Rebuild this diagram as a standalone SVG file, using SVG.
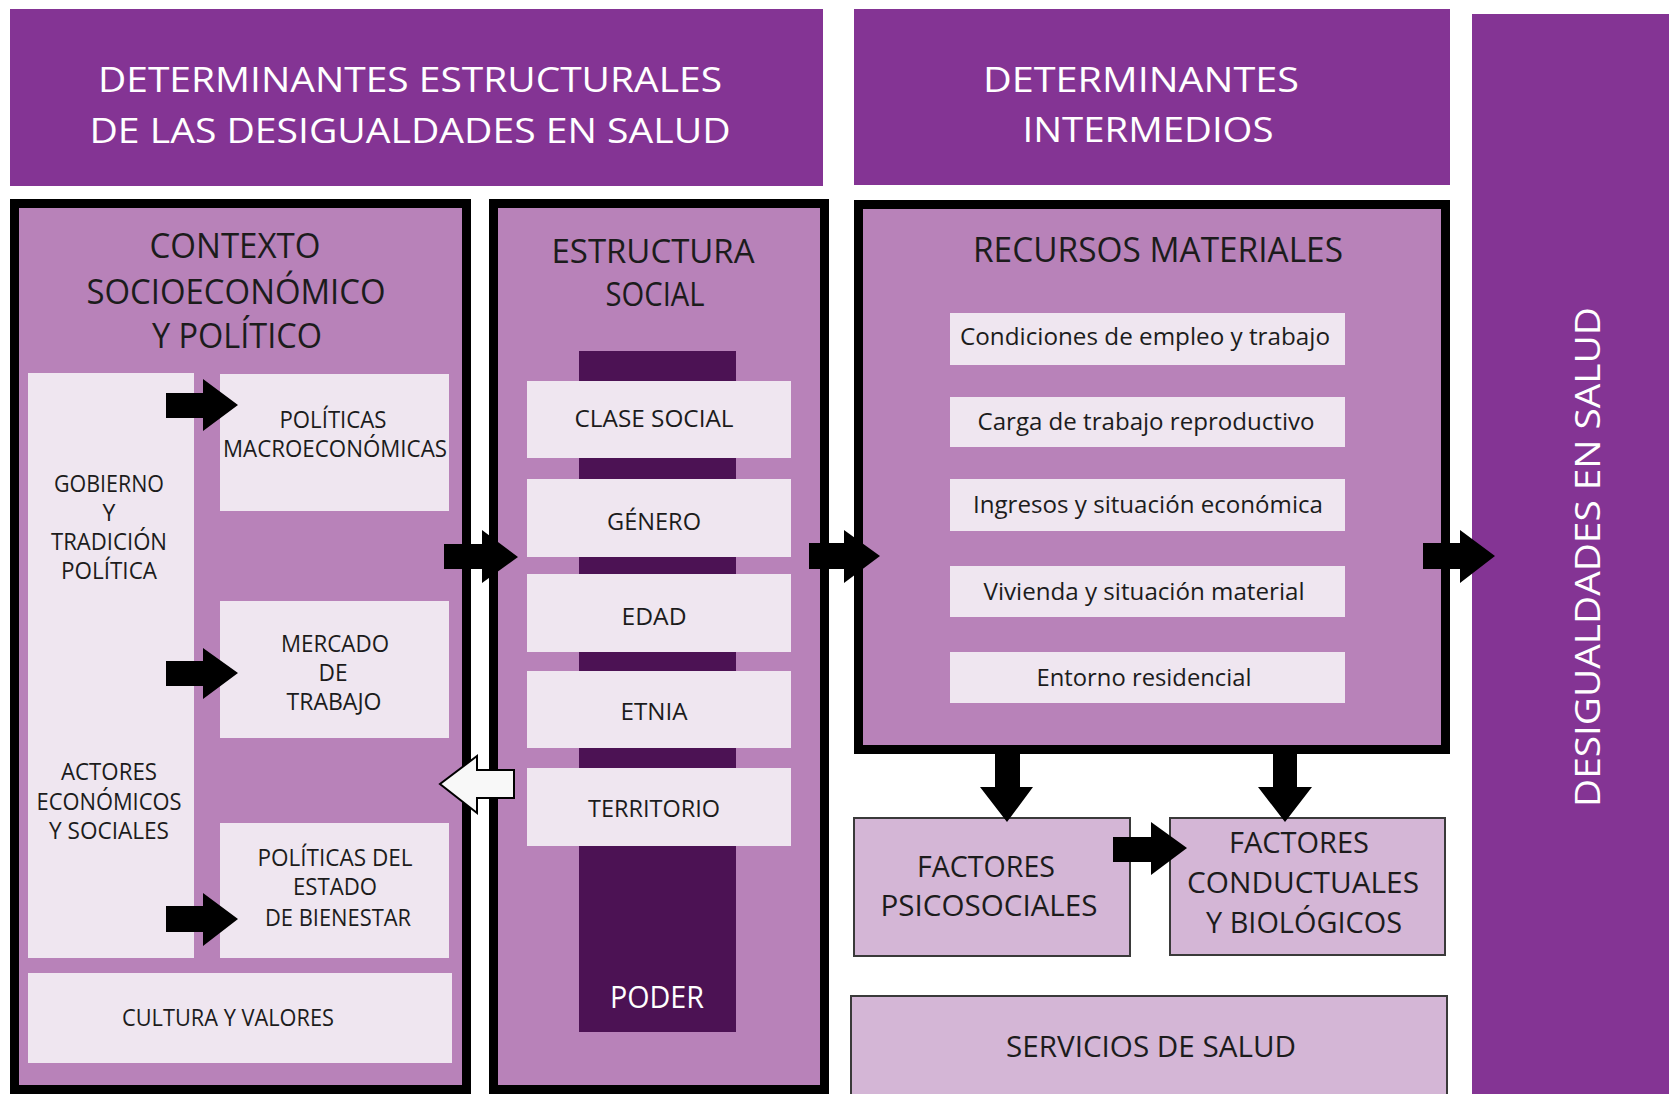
<svg xmlns="http://www.w3.org/2000/svg" width="1669" height="1094" viewBox="0 0 1669 1094">
<style>
text{font-family:"Open Sans","Noto Sans","DejaVu Sans",sans-serif;text-anchor:middle}
.hdr{fill:#ffffff;font-size:35px}
.hbox{fill:#843494}
.frame{fill:#b882b9;stroke:#000;stroke-width:9}
.light{fill:#efe6f0}
.t{fill:#1c1c1c}
.t36{font-size:35px}
.t32{font-size:32px}
.t23{font-size:23px}
.t30{font-size:30px}
.fac{fill:#d4b6d6;stroke:#3a3a3a;stroke-width:2}
.arr{fill:#000}
.harr{fill:#f8f8f8;stroke:#000;stroke-width:2}
</style>
<rect width="1669" height="1094" fill="#ffffff"/>

<g id="header-estructurales">
<rect class="hbox" x="10" y="9" width="813" height="177"/>
<text class="hdr" x="410" y="92" textLength="624" lengthAdjust="spacingAndGlyphs">DETERMINANTES ESTRUCTURALES</text>
<text class="hdr" x="410" y="143" textLength="641" lengthAdjust="spacingAndGlyphs">DE LAS DESIGUALDADES EN SALUD</text>
</g>

<g id="header-intermedios">
<rect class="hbox" x="854" y="9" width="596" height="176"/>
<text class="hdr" x="1141" y="92" textLength="316" lengthAdjust="spacingAndGlyphs">DETERMINANTES</text>
<text class="hdr" x="1148" y="142" textLength="251" lengthAdjust="spacingAndGlyphs">INTERMEDIOS</text>
</g>

<g id="desigualdades">
<rect class="hbox" x="1472" y="14" width="197" height="1080"/>
<text class="hdr" transform="translate(1600,557) rotate(-90)" x="0" y="0" font-size="49" textLength="500" lengthAdjust="spacingAndGlyphs">DESIGUALDADES EN SALUD</text>
</g>

<g id="contexto">
<rect class="frame" x="14.5" y="203.5" width="452" height="886"/>
<text class="t t36" x="235" y="258" textLength="171" lengthAdjust="spacingAndGlyphs">CONTEXTO</text>
<text class="t t36" x="236" y="304" textLength="299" lengthAdjust="spacingAndGlyphs">SOCIOECONÓMICO</text>
<text class="t t36" x="237" y="348" textLength="170" lengthAdjust="spacingAndGlyphs">Y POLÍTICO</text>
</g>

<g id="gobierno-actores">
<rect class="light" x="28" y="373" width="166" height="585"/>
<text class="t t23" x="109" y="492" textLength="110" lengthAdjust="spacingAndGlyphs">GOBIERNO</text>
<text class="t t23" x="109" y="521">Y</text>
<text class="t t23" x="109" y="550" textLength="116" lengthAdjust="spacingAndGlyphs">TRADICIÓN</text>
<text class="t t23" x="109" y="579" textLength="96" lengthAdjust="spacingAndGlyphs">POLÍTICA</text>
<text class="t t23" x="109" y="780" textLength="96" lengthAdjust="spacingAndGlyphs">ACTORES</text>
<text class="t t23" x="109" y="810" textLength="145" lengthAdjust="spacingAndGlyphs">ECONÓMICOS</text>
<text class="t t23" x="109" y="839" textLength="120" lengthAdjust="spacingAndGlyphs">Y SOCIALES</text>
</g>

<g id="politicas-macro">
<rect class="light" x="220" y="374" width="229" height="137"/>
<text class="t t23" x="333" y="428" textLength="107" lengthAdjust="spacingAndGlyphs">POLÍTICAS</text>
<text class="t t23" x="335" y="457" textLength="224" lengthAdjust="spacingAndGlyphs">MACROECONÓMICAS</text>
</g>

<g id="mercado-trabajo">
<rect class="light" x="220" y="601" width="229" height="137"/>
<text class="t t23" x="335" y="652" textLength="108" lengthAdjust="spacingAndGlyphs">MERCADO</text>
<text class="t t23" x="333" y="681" textLength="29" lengthAdjust="spacingAndGlyphs">DE</text>
<text class="t t23" x="334" y="710" textLength="95" lengthAdjust="spacingAndGlyphs">TRABAJO</text>
</g>

<g id="politicas-bienestar">
<rect class="light" x="220" y="823" width="229" height="135"/>
<text class="t t23" x="335" y="866" textLength="155" lengthAdjust="spacingAndGlyphs">POLÍTICAS DEL</text>
<text class="t t23" x="335" y="895" textLength="84" lengthAdjust="spacingAndGlyphs">ESTADO</text>
<text class="t t23" x="338" y="926" textLength="146" lengthAdjust="spacingAndGlyphs">DE BIENESTAR</text>
</g>

<g id="cultura-valores">
<rect class="light" x="28" y="973" width="424" height="90"/>
<text class="t t23" x="228" y="1026" textLength="212" lengthAdjust="spacingAndGlyphs">CULTURA Y VALORES</text>
</g>

<g id="estructura-social">
<rect class="frame" x="493.5" y="203.5" width="331" height="886"/>
<text class="t t32" x="653" y="263" textLength="203" lengthAdjust="spacingAndGlyphs">ESTRUCTURA</text>
<text class="t t32" x="655" y="306" textLength="99" lengthAdjust="spacingAndGlyphs">SOCIAL</text>
</g>

<g id="poder">
<rect x="579" y="351" width="157" height="681" fill="#4c1254"/>
<text x="657" y="1008" font-size="31" fill="#ffffff" textLength="94" lengthAdjust="spacingAndGlyphs">PODER</text>
</g>

<g id="clase-social">
<rect class="light" x="527" y="381" width="264" height="77"/>
<text class="t t23" x="654" y="427" textLength="159" lengthAdjust="spacingAndGlyphs">CLASE SOCIAL</text>
</g>
<g id="genero">
<rect class="light" x="527" y="479" width="264" height="78"/>
<text class="t t23" x="654" y="530" textLength="94" lengthAdjust="spacingAndGlyphs">GÉNERO</text>
</g>
<g id="edad">
<rect class="light" x="527" y="574" width="264" height="78"/>
<text class="t t23" x="654" y="625" textLength="65" lengthAdjust="spacingAndGlyphs">EDAD</text>
</g>
<g id="etnia">
<rect class="light" x="527" y="671" width="264" height="77"/>
<text class="t t23" x="654" y="720" textLength="67" lengthAdjust="spacingAndGlyphs">ETNIA</text>
</g>
<g id="territorio">
<rect class="light" x="527" y="768" width="264" height="78"/>
<text class="t t23" x="654" y="817" textLength="132" lengthAdjust="spacingAndGlyphs">TERRITORIO</text>
</g>

<g id="recursos-materiales">
<rect class="frame" x="858.5" y="204.5" width="587" height="545"/>
<text class="t t36" x="1158" y="262" textLength="370" lengthAdjust="spacingAndGlyphs">RECURSOS MATERIALES</text>
</g>

<g id="condiciones-empleo">
<rect class="light" x="950" y="313" width="395" height="52"/>
<text class="t t23" x="1145" y="345" textLength="370" lengthAdjust="spacingAndGlyphs">Condiciones de empleo y trabajo</text>
</g>
<g id="carga-trabajo">
<rect class="light" x="950" y="397" width="395" height="50"/>
<text class="t t23" x="1146" y="430" textLength="337" lengthAdjust="spacingAndGlyphs">Carga de trabajo reproductivo</text>
</g>
<g id="ingresos">
<rect class="light" x="950" y="479" width="395" height="52"/>
<text class="t t23" x="1148" y="513" textLength="350" lengthAdjust="spacingAndGlyphs">Ingresos y situación económica</text>
</g>
<g id="vivienda">
<rect class="light" x="950" y="566" width="395" height="51"/>
<text class="t t23" x="1144" y="600" textLength="321" lengthAdjust="spacingAndGlyphs">Vivienda y situación material</text>
</g>
<g id="entorno">
<rect class="light" x="950" y="652" width="395" height="51"/>
<text class="t t23" x="1144" y="686" textLength="215" lengthAdjust="spacingAndGlyphs">Entorno residencial</text>
</g>

<g id="factores-psicosociales">
<rect class="fac" x="854" y="818" width="276" height="138"/>
<text class="t t30" x="986" y="877" textLength="138" lengthAdjust="spacingAndGlyphs">FACTORES</text>
<text class="t t30" x="989" y="916" textLength="217" lengthAdjust="spacingAndGlyphs">PSICOSOCIALES</text>
</g>

<g id="factores-conductuales">
<rect class="fac" x="1170" y="818" width="275" height="137"/>
<text class="t t30" x="1299" y="853" textLength="140" lengthAdjust="spacingAndGlyphs">FACTORES</text>
<text class="t t30" x="1303" y="893" textLength="232" lengthAdjust="spacingAndGlyphs">CONDUCTUALES</text>
<text class="t t30" x="1304" y="933" textLength="196" lengthAdjust="spacingAndGlyphs">Y BIOLÓGICOS</text>
</g>

<g id="servicios-salud">
<rect class="fac" x="851" y="996" width="596" height="110"/>
<text class="t t30" x="1151" y="1057" textLength="290" lengthAdjust="spacingAndGlyphs">SERVICIOS DE SALUD</text>
</g>

<g id="connectors">
<polygon class="arr" points="166,393 203,393 203,379 238,405 203,431 203,418 166,418"/>
<polygon class="arr" points="166,661 203,661 203,648 238,673 203,699 203,686 166,686"/>
<polygon class="arr" points="166,906 203,906 203,893 238,919 203,946 203,932 166,932"/>
<polygon class="arr" points="444,544 482,544 482,530 518,557 482,583 482,569 444,569"/>
<polygon class="arr" points="809,543 844,543 844,530 880,556 844,583 844,569 809,569"/>
<polygon class="arr" points="1423,543 1460,543 1460,530 1495,556 1460,583 1460,569 1423,569"/>
<polygon class="harr" points="514,770 477,770 477,756 440,784 477,813 477,798 514,798"/>
<polygon class="arr" points="995,752 1020,752 1020,787 1033,787 1007,822 980,787 995,787"/>
<polygon class="arr" points="1273,752 1297,752 1297,787 1312,787 1285,822 1258,787 1273,787"/>
<polygon class="arr" points="1113,837 1151,837 1151,822 1187,848 1151,875 1151,862 1113,862"/>
</g>
</svg>
